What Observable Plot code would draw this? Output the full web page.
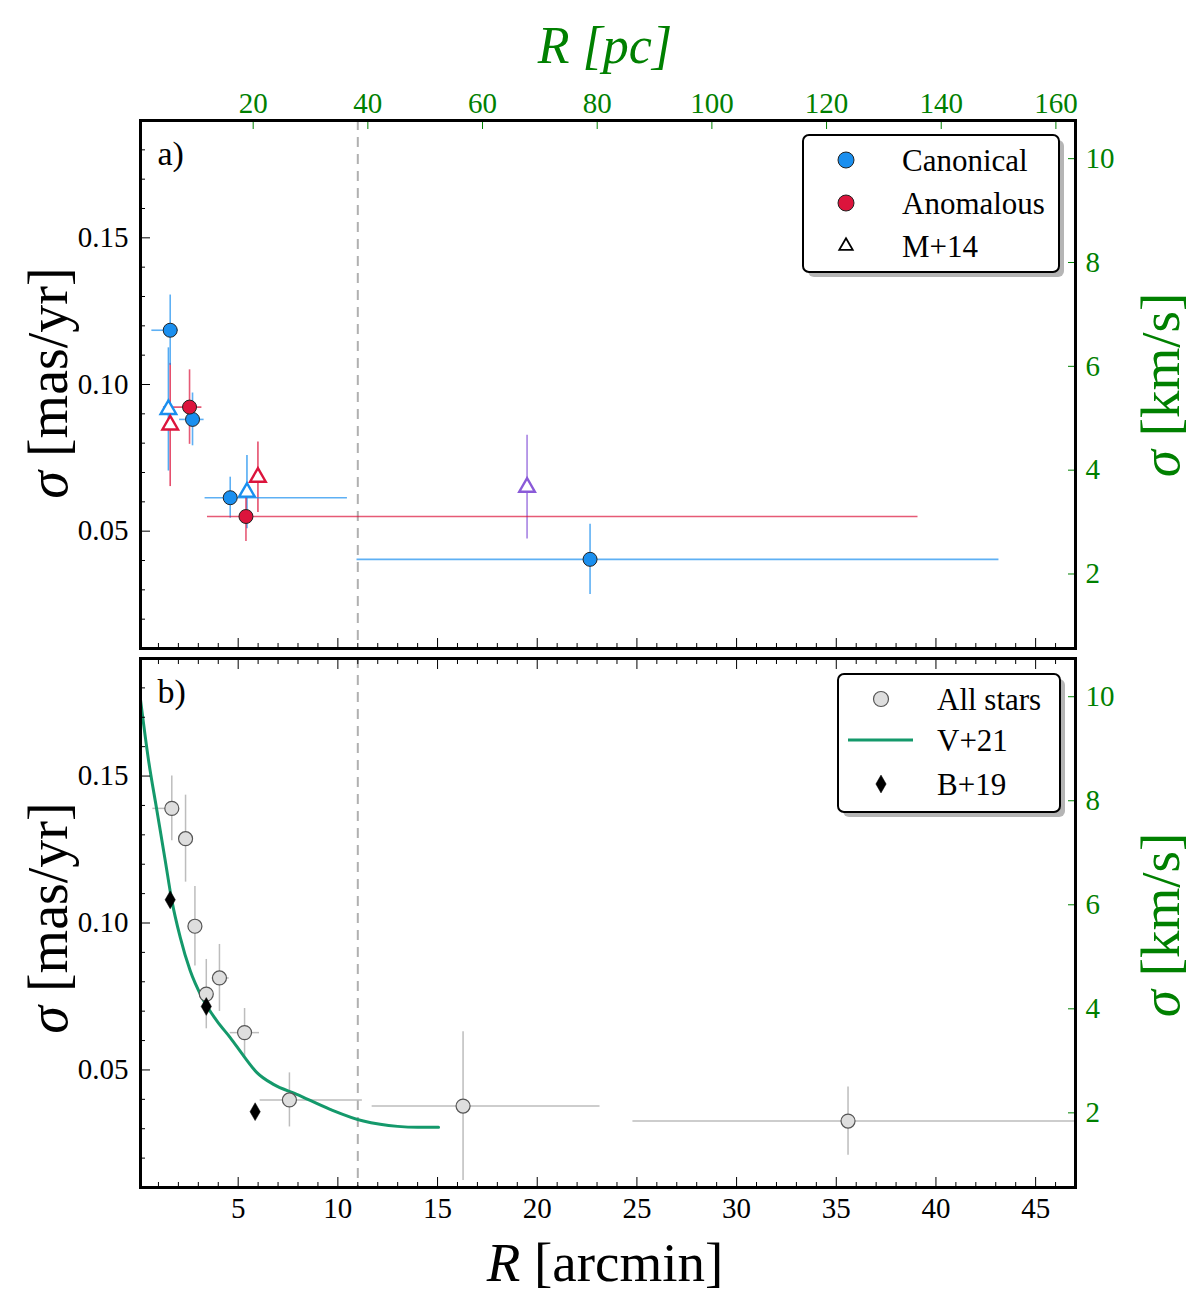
<!DOCTYPE html>
<html>
<head>
<meta charset="utf-8">
<script src="https://cdn.jsdelivr.net/npm/d3@7"></script>
<script src="https://cdn.jsdelivr.net/npm/@observablehq/plot@0.6"></script>
<style>
  html, body { margin: 0; padding: 0; background: white; overflow: hidden; }
  #fig { position: relative; width: 1200px; height: 1307px; }
  #fig svg { position: absolute; left: 0; display: block; max-width: none; }
</style>
</head>
<body>
<div id="fig"></div>
<script>
// ---- panel a: canonical / anomalous bins (R in arcmin, sigma in mas/yr)
const canR    = [1.59, 2.71, 4.60, 22.65];
const canRlo  = [0.67, 2.06, 3.34, 10.96];
const canRhi  = [2.00, 3.29, 10.48, 43.16];
const canSig  = [0.1185, 0.0881, 0.0614, 0.0404];
const canErr  = [0.012, 0.009, 0.007, 0.012];

const anoR    = [2.56, 5.39];
const anoRlo  = [1.25, 3.46];
const anoRhi  = [3.18, 39.10];
const anoSig  = [0.0923, 0.0550];
const anoErr  = [0.0127, 0.0085];

// M+14 (open triangles)
const m14R     = [1.50, 1.59, 5.44, 5.99, 19.49];
const m14Sig   = [0.0915, 0.0862, 0.0633, 0.0684, 0.0650];
const m14Err   = [0.021, 0.021, 0.0125, 0.012, 0.0177];
const m14Group = ["Canonical", "Anomalous", "Canonical", "Anomalous", "All"];

// ---- panel b: all stars
const allR   = [1.67, 2.36, 2.83, 3.40, 4.06, 5.32, 7.57, 16.28, 35.59];
const allRlo = [0.72, 2.10, 2.60, 3.10, 3.70, 4.60, 6.10, 11.72, 24.80];
const allRhi = [2.05, 2.60, 3.05, 3.70, 4.55, 6.07, 11.23, 23.15, 47.00];
const allSig = [0.139, 0.1287, 0.0989, 0.0758, 0.0813, 0.0627, 0.0398, 0.0377, 0.0326];
const allErr = [0.011, 0.0148, 0.0135, 0.0118, 0.0114, 0.0082, 0.0092, 0.0253, 0.0116];

// B+19
const b19R   = [1.59, 3.40, 5.85];
const b19Sig = [0.1079, 0.0716, 0.0358];

// V+21 model curve
const v21R   = [0.1, 0.5, 0.92, 1.34, 1.67, 2.09, 2.59, 3.18, 3.93, 4.6, 5.27, 5.94, 6.77, 7.94, 9.61, 11.28, 12.12, 13.0, 14.0, 15.05];
const v21Sig = [0.176, 0.1555, 0.1384, 0.1213, 0.1077, 0.0952, 0.0838, 0.0747, 0.0667, 0.061, 0.0548, 0.0491, 0.0451, 0.0417, 0.0366, 0.0326, 0.0315, 0.0308, 0.0305, 0.0305];

// radius of the dashed reference line
const dashR = [11];

// axis ticks
const xMajor = [5, 10, 15, 20, 25, 30, 35, 40, 45];
const xMinor = d3.range(1, 47).filter(v => v % 5 !== 0);
const yMajor = [0.05, 0.10, 0.15];
const yMinor = [0.02, 0.03, 0.04, 0.06, 0.07, 0.08, 0.09, 0.11, 0.12, 0.13, 0.14, 0.16, 0.17, 0.18];
const pcTicks = [20, 40, 60, 80, 100, 120, 140, 160];
const kmsTicks = [2, 4, 6, 8, 10];

// conversions for the secondary axes
const PC_PER_ARCMIN = 3.477;
const KMS_PER_MASYR = 56.5;

const font = "Liberation Serif";
const colors = {Canonical: "#1a8fef", Anomalous: "#dc143c", All: "#8a5ad8"};
const green = "green";
const curveGreen = "#14996b";

const rows = (R, lo, hi, s, e) => R.map((r, i) => ({R: r, xlo: lo ? lo[i] : r, xhi: hi ? hi[i] : r, s: s[i], lo: s[i] - e[i], hi: s[i] + e[i]}));
const canonical = rows(canR, canRlo, canRhi, canSig, canErr);
const anomalous = rows(anoR, anoRlo, anoRhi, anoSig, anoErr);
const m14 = m14R.map((r, i) => ({R: r, s: m14Sig[i], lo: m14Sig[i] - m14Err[i], hi: m14Sig[i] + m14Err[i], g: m14Group[i]}));
const allStars = rows(allR, allRlo, allRhi, allSig, allErr);
const b19 = b19R.map((r, i) => ({R: r, s: b19Sig[i]}));
const v21 = v21R.map((r, i) => ({R: r, s: v21Sig[i]}));

// inward ticks for the frame
function frameAxes(labelBottom, topKind) {
  const marks = [
    Plot.axisY(yMajor, {anchor: "left", tickSize: -10, tickPadding: 22, tickFormat: d3.format(".2f"), fontSize: 29, label: null}),
    Plot.axisY(yMinor, {anchor: "left", tickSize: -5, tickFormat: () => "", label: null}),
    Plot.axisY(kmsTicks.map(v => v / KMS_PER_MASYR), {anchor: "right", tickSize: -8, tickPadding: 18, color: green,
      tickFormat: d => String(Math.round(d * KMS_PER_MASYR)), fontSize: 29, label: null}),
    Plot.axisX(xMajor, {anchor: "bottom", tickSize: -10, tickPadding: labelBottom ? 20 : 0,
      tickFormat: labelBottom ? d => String(d) : () => "", fontSize: 29, label: null}),
    Plot.axisX(xMinor, {anchor: "bottom", tickSize: -5, tickFormat: () => "", label: null})
  ];
  if (topKind === "pc") {
    marks.push(Plot.axisX(pcTicks.map(v => v / PC_PER_ARCMIN), {anchor: "top", tickSize: -8, tickPadding: 16, color: green,
      tickFormat: d => String(Math.round(d * PC_PER_ARCMIN)), fontSize: 29, label: null}));
  } else {
    marks.push(Plot.axisX(xMajor, {anchor: "top", tickSize: -10, tickFormat: () => "", label: null}));
    marks.push(Plot.axisX(xMinor, {anchor: "top", tickSize: -5, tickFormat: () => "", label: null}));
  }
  return marks;
}

function addText(svg, x, y, parts, size, fill = "black", rotate = 0) {
  const t = svg.append("text")
    .attr("transform", `translate(${x},${y}) rotate(${rotate})`)
    .attr("text-anchor", "middle")
    .attr("dominant-baseline", "central")
    .attr("font-family", font)
    .attr("font-size", size)
    .attr("fill", fill);
  parts.forEach(([s, italic]) => t.append("tspan").attr("font-style", italic ? "italic" : "normal").text(s));
}

function addLegend(svg, box, items) {
  svg.append("rect").attr("x", box.x + 5).attr("y", box.y + 5).attr("width", box.w).attr("height", box.h)
    .attr("rx", 6).attr("fill", "#b5b5b5");
  svg.append("rect").attr("x", box.x).attr("y", box.y).attr("width", box.w).attr("height", box.h)
    .attr("rx", 6).attr("fill", "white").attr("stroke", "black").attr("stroke-width", 2);
  items.forEach(it => {
    if (it.line) {
      svg.append("line").attr("x1", box.x + 10).attr("x2", box.x + 75).attr("y1", it.y).attr("y2", it.y)
        .attr("stroke", it.line).attr("stroke-width", 3);
    } else {
      svg.append("path")
        .attr("d", d3.symbol().type(it.symbol).size(Math.PI * it.r * it.r)())
        .attr("transform", `translate(${it.sx},${it.y})`)
        .attr("fill", it.fill).attr("stroke", it.stroke).attr("stroke-width", it.sw);
    }
    svg.append("text").attr("x", it.tx).attr("y", it.y)
      .attr("text-anchor", "start").attr("dominant-baseline", "central")
      .attr("font-family", font).attr("font-size", 31).attr("fill", "black").text(it.label);
  });
}

const common = {
  width: 1200,
  marginLeft: 140,
  marginRight: 125,
  x: {domain: [0.1, 47], label: null},
  y: {domain: [0.01, 0.19], label: null},
  color: {type: "identity"},
  style: {fontFamily: font, background: "white", color: "black"}
};

// ---------- panel a
const chartA = Plot.plot({
  ...common,
  height: 653,
  marginTop: 120,
  marginBottom: 5,
  marks: [
    Plot.ruleX(dashR, {stroke: "#b0b0b0", strokeWidth: 2, strokeDasharray: "10,7"}),
    Plot.ruleX(m14, {x: "R", y1: "lo", y2: "hi", stroke: d => colors[d.g], strokeOpacity: 0.75, strokeWidth: 1.6}),
    Plot.ruleX(canonical, {x: "R", y1: "lo", y2: "hi", stroke: colors.Canonical, strokeOpacity: 0.7, strokeWidth: 1.6}),
    Plot.ruleY(canonical, {y: "s", x1: "xlo", x2: "xhi", stroke: colors.Canonical, strokeOpacity: 0.7, strokeWidth: 1.6}),
    Plot.ruleX(anomalous, {x: "R", y1: "lo", y2: "hi", stroke: colors.Anomalous, strokeOpacity: 0.7, strokeWidth: 1.6}),
    Plot.ruleY(anomalous, {y: "s", x1: "xlo", x2: "xhi", stroke: colors.Anomalous, strokeOpacity: 0.7, strokeWidth: 1.6}),
    Plot.dot(m14, {x: "R", y: "s", symbol: "triangle", r: 5.8, fill: "white", stroke: d => colors[d.g], strokeWidth: 2.4}),
    Plot.dot(canonical, {x: "R", y: "s", r: 7, fill: colors.Canonical, stroke: "#222", strokeWidth: 1}),
    Plot.dot(anomalous, {x: "R", y: "s", r: 7, fill: colors.Anomalous, stroke: "#222", strokeWidth: 1}),
    Plot.text(["a)"], {frameAnchor: "top-left", dx: 17, dy: 20, fontSize: 34, textAnchor: "start"}),
    ...frameAxes(false, "pc"),
    Plot.frame({stroke: "black", strokeWidth: 3})
  ]
});
chartA.style.top = "0px";

// ---------- panel b
const chartB = Plot.plot({
  ...common,
  height: 654,
  marginTop: 5,
  marginBottom: 120,
  marks: [
    Plot.ruleX(dashR, {stroke: "#b0b0b0", strokeWidth: 2, strokeDasharray: "10,7"}),
    Plot.ruleX(allStars, {x: "R", y1: "lo", y2: "hi", stroke: "#bdbdbd", strokeWidth: 1.5}),
    Plot.ruleY(allStars, {y: "s", x1: "xlo", x2: "xhi", stroke: "#bdbdbd", strokeWidth: 1.5}),
    Plot.line(v21, {x: "R", y: "s", stroke: curveGreen, strokeWidth: 3, curve: "monotone-x"}),
    Plot.dot(allStars, {x: "R", y: "s", r: 7, fill: "#dedede", stroke: "#555", strokeWidth: 1.2}),
    Plot.dot(b19, {x: "R", y: "s", symbol: "diamond", r: 5.4, fill: "black", stroke: "black", strokeWidth: 0.5}),
    Plot.text(["b)"], {frameAnchor: "top-left", dx: 17, dy: 20, fontSize: 34, textAnchor: "start"}),
    ...frameAxes(true, "arcmin"),
    Plot.frame({stroke: "black", strokeWidth: 3})
  ]
});
chartB.style.top = "653px";

const fig = document.getElementById("fig");
fig.appendChild(chartA);
fig.appendChild(chartB);

// axis labels
const sA = d3.select(chartA);
addText(sA, 48, 383, [["σ", true], [" [mas/yr]", false]], 56, "black", -90);
addText(sA, 1160, 385, [["σ", true], [" [km/s]", false]], 55, green, -90);
addText(sA, 605, 45, [["R [pc]", true]], 52, green);

const sB = d3.select(chartB);
addText(sB, 48, 265, [["σ", true], [" [mas/yr]", false]], 56, "black", -90);
addText(sB, 1160, 272, [["σ", true], [" [km/s]", false]], 55, green, -90);
addText(sB, 605, 609, [["R", true], [" [arcmin]", false]], 55, "black");

// legends
addLegend(sA, {x: 803, y: 135, w: 256, h: 137}, [
  {label: "Canonical", y: 160, sx: 846, tx: 902, symbol: d3.symbolCircle, r: 8, fill: colors.Canonical, stroke: "#222", sw: 1},
  {label: "Anomalous", y: 203, sx: 846, tx: 902, symbol: d3.symbolCircle, r: 8, fill: colors.Anomalous, stroke: "#222", sw: 1},
  {label: "M+14", y: 246, sx: 846, tx: 902, symbol: d3.symbolTriangle, r: 5, fill: "white", stroke: "black", sw: 1.8}
]);
addLegend(sB, {x: 838, y: 21, w: 222, h: 138}, [
  {label: "All stars", y: 46, sx: 881, tx: 937, symbol: d3.symbolCircle, r: 7.5, fill: "#dedede", stroke: "#555", sw: 1.2},
  {label: "V+21", y: 87, tx: 937, line: curveGreen},
  {label: "B+19", y: 131, sx: 881, tx: 937, symbol: d3.symbolDiamond, r: 5.4, fill: "black", stroke: "black", sw: 0.5}
]);
</script>
</body>
</html>
